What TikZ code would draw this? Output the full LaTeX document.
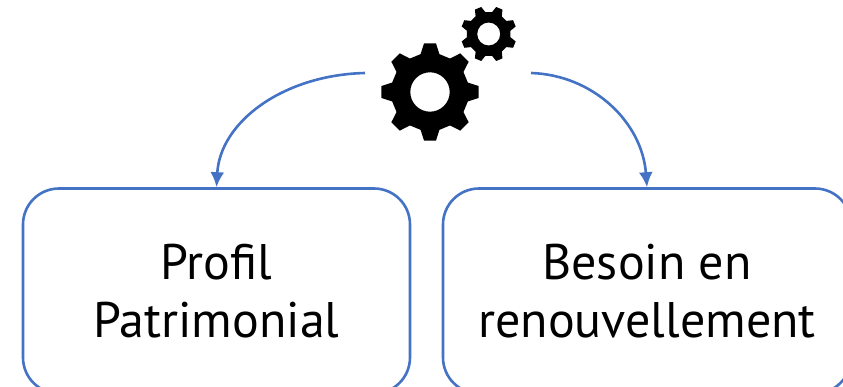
\documentclass[tikz,border=0pt]{standalone}
\usepackage{fontspec}
\setmainfont{PT Sans}
\usetikzlibrary{arrows.meta}
\definecolor{officeblue}{HTML}{4472C4}

\newcommand{\drawgear}[6]{% x, y, hole, root, outer, rotation
    \fill[black,even odd rule] ([shift={(#1,#2)}]#6-14:#4)
        \foreach \a in {0,45,...,315} {
            -- ([shift={(#1,#2)}]#6+\a-14:#4)
            -- ([shift={(#1,#2)}]#6+\a-7:#5)
            -- ([shift={(#1,#2)}]#6+\a+7:#5)
            -- ([shift={(#1,#2)}]#6+\a+14:#4)
        } -- cycle
        (#1,#2) circle[radius=#3];
}

\begin{document}
\begin{tikzpicture}[x=1pt,y=-1pt,>={Latex[length=15pt,width=14pt]}]
    \tikzstyle{card}=[draw=officeblue,line width=2.6pt,rounded corners=36pt,minimum width=387pt,minimum height=205pt,align=center,font=\fontsize{50}{58}\selectfont,inner sep=0pt]
    \tikzstyle{link}=[draw=officeblue,line width=2.6pt,->]
    \useasboundingbox (0,0) rectangle (843,387);

    \node[card] (profil) at (216.5,291) {Profil\\Patrimonial};
    \node[card,minimum width=408pt] (besoin) at (647,291) {Besoin en\\renouvellement};

    \coordinate (gear-left) at (365,73);
    \coordinate (gear-right) at (531,73);

    \drawgear{430}{92}{19.7}{39}{49}{90}
    \drawgear{488.7}{34}{11.5}{22}{28}{112.5}

    \draw[link] (gear-left) .. controls (283,75) and (220,122) .. (profil.north);
    \draw[link] (gear-right) .. controls (593,75) and (642,122) .. (besoin.north);
\end{tikzpicture}
\end{document}
